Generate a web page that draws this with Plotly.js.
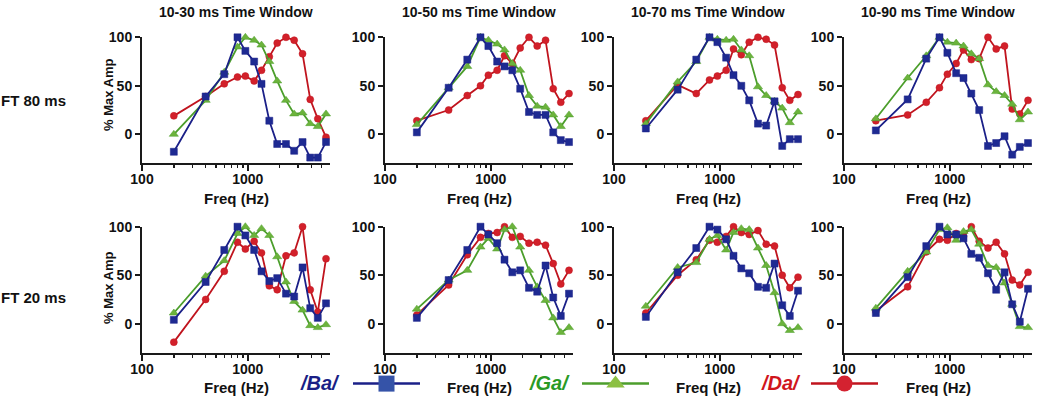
<!DOCTYPE html>
<html>
<head>
<meta charset="utf-8">
<script src="https://cdn.plot.ly/plotly-3.0.1.min.js"></script>
<style>
    body { margin: 0; background: #fff; }
    #graph { width: 1050px; height: 412px; }
</style>
</head>
<body>
<div id="graph"></div>
<script>
// stimulus frequencies (Hz), same for every panel
let freqs = [200, 400, 600, 800, 950, 1150, 1350, 1600, 1900, 2300, 2750, 3300, 3900, 4600, 5500];

let windowTitles = ['10-30 ms Time Window', '10-50 ms Time Window', '10-70 ms Time Window', '10-90 ms Time Window'];
let rowTitles = ['FT 80 ms', 'FT 20 ms'];
let syllables = ['/Ba/', '/Ga/', '/Da/'];

// % max amplitude, FT 80 ms row
let ba_80_30 = [-18, 39, 62, 100, 86, 75, 52, 14, -10, -10, -17, -8, -24, -24, -8];
let ga_80_30 = [0, 35, 64, 90, 100, 97, 92, 75, 55, 35, 21, 22, 11, 8, 21];
let da_80_30 = [19, 39, 52, 59, 60, 55, 66, 80, 94, 100, 97, 83, 36, 16, -3];

let ba_80_50 = [2, 48, 77, 100, 91, 75, 70, 66, 47, 23, 20, 20, 2, -6, -8];
let ga_80_50 = [10, 48, 70, 100, 97, 93, 87, 73, 66, 40, 29, 28, 20, 8, 20];
let da_80_50 = [14, 25, 40, 50, 61, 66, 81, 73, 89, 100, 91, 97, 47, 33, 42];

let ba_80_70 = [6, 46, 77, 100, 95, 79, 61, 50, 35, 11, 9, 34, -12, -5, -5];
let ga_80_70 = [11, 54, 75, 100, 98, 97, 98, 87, 81, 49, 40, 34, 27, 12, 23];
let da_80_70 = [14, 51, 42, 56, 60, 66, 88, 82, 95, 100, 98, 92, 48, 35, 41];

let ba_80_90 = [4, 36, 78, 100, 84, 63, 58, 42, 25, -12, -9, -2, -21, -13, -9];
let ga_80_90 = [16, 58, 81, 100, 95, 94, 91, 83, 78, 51, 44, 40, 31, 15, 23];
let da_80_90 = [14, 20, 33, 48, 62, 73, 87, 77, 78, 100, 88, 91, 26, 21, 35];

// % max amplitude, FT 20 ms row
let ba_20_30 = [4, 43, 76, 100, 91, 76, 54, 44, 47, 31, 28, 58, 16, 6, 21];
let ga_20_30 = [11, 49, 65, 93, 100, 91, 98, 91, 69, 43, 23, 14, -2, -4, -1];
let da_20_30 = [-19, 25, 54, 84, 77, 85, 73, 39, 35, 70, 73, 100, 35, 12, 67];

let ba_20_50 = [6, 45, 76, 100, 92, 83, 66, 53, 55, 37, 33, 60, 27, 8, 31];
let ga_20_50 = [15, 45, 55, 79, 88, 77, 97, 100, 79, 55, 38, 24, 6, -9, -4];
let da_20_50 = [9, 40, 71, 89, 93, 94, 100, 89, 90, 83, 84, 81, 62, 41, 55];

let ba_20_70 = [7, 53, 78, 100, 97, 87, 70, 57, 52, 38, 37, 62, 19, 8, 34];
let ga_20_70 = [18, 58, 63, 87, 91, 76, 94, 98, 97, 78, 60, 32, 0, -7, -4];
let da_20_70 = [11, 50, 66, 86, 84, 90, 100, 94, 92, 96, 82, 80, 50, 37, 48];

let ba_20_90 = [11, 48, 80, 100, 92, 92, 88, 72, 68, 52, 35, 53, 20, 2, 36];
let ga_20_90 = [16, 54, 74, 97, 99, 86, 95, 97, 82, 60, 58, 42, 20, -3, -4];
let da_20_90 = [13, 38, 74, 87, 86, 93, 90, 100, 85, 78, 84, 72, 45, 40, 53];

let panels = [
    [ba_80_30, ga_80_30, da_80_30], [ba_80_50, ga_80_50, da_80_50],
    [ba_80_70, ga_80_70, da_80_70], [ba_80_90, ga_80_90, da_80_90],
    [ba_20_30, ga_20_30, da_20_30], [ba_20_50, ga_20_50, da_20_50],
    [ba_20_70, ga_20_70, da_20_70], [ba_20_90, ga_20_90, da_20_90]
];

let FONT = '"Liberation Sans", Arial, sans-serif';
let W = 1050, H = 412;

let lineColors = ['#1b2088', '#4c9e2c', '#c0141e'];
let markerColors = ['#1e2a92', '#6cb33c', '#d2202a'];
let legendMarkerColors = ['#3553a8', '#8cc043', '#d42230'];
let labelColors = ['#1a1f86', '#2a9a25', '#d0161d'];
let symbols = ['square', 'triangle-up', 'circle'];

// pixel boxes of the plot areas
let colLeft = [142, 385, 614, 844];
let colWidth = 188;
let rowTop = [37.3, 226.7];
let rowBottom = [163.4, 352.8];

let minorTicks = [200, 300, 400, 500, 600, 700, 800, 900, 2000, 3000, 4000, 5000];

let data = [];
let layout = {
    width: W,
    height: H,
    margin: {l: 0, r: 0, t: 0, b: 0},
    paper_bgcolor: '#fff',
    plot_bgcolor: 'rgba(0,0,0,0)',
    font: {family: FONT, color: '#111'},
    hovermode: false,
    showlegend: true,
    annotations: []
};

for (let r = 0; r < 2; r++) {
    for (let c = 0; c < 4; c++) {
        let k = r * 4 + c + 1;
        let sfx = k == 1 ? '' : String(k);

        layout['xaxis' + sfx] = {
            type: 'log',
            domain: [colLeft[c] / W, (colLeft[c] + colWidth) / W],
            range: [2, Math.log10(6000)],
            anchor: 'y' + sfx,
            tickmode: 'array',
            tickvals: [100, 1000],
            ticktext: ['100', '1000'],
            ticks: 'outside',
            ticklen: 6,
            tickwidth: 2,
            tickcolor: '#1a1a1a',
            ticklabelstandoff: -4,
            minor: {tickmode: 'array', tickvals: minorTicks, ticks: 'outside', ticklen: 3, tickwidth: 1.5, tickcolor: '#1a1a1a'},
            showline: true,
            linewidth: 2,
            linecolor: '#1a1a1a',
            showgrid: false,
            zeroline: false,
            automargin: false,
            fixedrange: true,
            tickfont: {family: FONT, size: 14, weight: 'bold', color: '#111'}
        };

        layout['yaxis' + sfx] = {
            domain: [1 - rowBottom[r] / H, 1 - rowTop[r] / H],
            range: [-30, 100],
            anchor: 'x' + sfx,
            tickmode: 'array',
            tickvals: [0, 50, 100],
            ticks: 'outside',
            ticklen: 5,
            tickwidth: 2,
            tickcolor: '#1a1a1a',
            showline: true,
            linewidth: 2,
            linecolor: '#1a1a1a',
            showgrid: false,
            zeroline: false,
            automargin: false,
            fixedrange: true,
            tickfont: {family: FONT, size: 14, weight: 'bold', color: '#111'}
        };

        // draw Da first, Ba last so the blue squares sit on top
        for (let s of [2, 1, 0]) {
            data.push({
                x: freqs,
                y: panels[k - 1][s],
                xaxis: 'x' + sfx,
                yaxis: 'y' + sfx,
                type: 'scatter',
                mode: 'lines+markers',
                showlegend: false,
                cliponaxis: false,
                line: {color: lineColors[s], width: 1.8},
                marker: {symbol: symbols[s], size: s == 1 ? 8 : 7, color: markerColors[s],
                         line: {color: lineColors[s], width: 0.5}}
            });
        }

        // Freq (Hz) under each panel
        layout.annotations.push({
            text: 'Freq (Hz)',
            xref: 'x' + sfx + ' domain', yref: 'y' + sfx + ' domain',
            x: 0.5, y: 0, yshift: -35,
            xanchor: 'center', yanchor: 'middle',
            showarrow: false,
            font: {family: FONT, size: 15, weight: 'bold', color: '#111'}
        });

        if (r == 0) {
            layout.annotations.push({
                text: windowTitles[c],
                xref: 'x' + sfx + ' domain', yref: 'y' + sfx + ' domain',
                x: 0.5, y: 1, yshift: 25,
                xanchor: 'center', yanchor: 'middle',
                showarrow: false,
                font: {family: FONT, size: 14, weight: 'bold', color: '#111'}
            });
        }
    }
}

// row labels and y titles on the left column
let rowLabelY = [100, 297];
let yTitleY = [95, 288];
for (let r = 0; r < 2; r++) {
    layout.annotations.push({
        text: rowTitles[r],
        xref: 'paper', yref: 'paper',
        x: 33 / W, y: 1 - rowLabelY[r] / H,
        xanchor: 'center', yanchor: 'middle',
        showarrow: false,
        font: {family: FONT, size: 15, weight: 'bold', color: '#111'}
    });
    layout.annotations.push({
        text: '% Max Amp',
        xref: 'paper', yref: 'paper',
        x: 108 / W, y: 1 - yTitleY[r] / H,
        xanchor: 'center', yanchor: 'middle',
        textangle: -90,
        showarrow: false,
        font: {family: FONT, size: 13, weight: 'bold', color: '#111'}
    });
}

// legend: one small legend per syllable, coloured label to its left
let legendNames = ['legend', 'legend2', 'legend3'];
let legendLineX = [348, 577, 806];
let legendLabelX = [342, 572, 803];
for (let s = 0; s < 3; s++) {
    data.push({
        x: [null],
        y: [null],
        type: 'scatter',
        mode: 'lines+markers',
        name: ' ',
        legend: legendNames[s],
        showlegend: true,
        line: {color: lineColors[s], width: 2.5},
        marker: {symbol: symbols[s], size: 16, color: legendMarkerColors[s]}
    });
    layout[legendNames[s]] = {
        x: legendLineX[s] / W,
        y: 1 - 384 / H,
        xanchor: 'left',
        yanchor: 'middle',
        itemwidth: 67,
        itemsizing: 'trace',
        bgcolor: 'rgba(0,0,0,0)',
        borderwidth: 0,
        font: {size: 14}
    };
    layout.annotations.push({
        text: '<i>' + syllables[s] + '</i>',
        xref: 'paper', yref: 'paper',
        x: legendLabelX[s] / W, y: 1 - 383 / H,
        xanchor: 'right', yanchor: 'middle',
        showarrow: false,
        font: {family: FONT, size: 20, weight: 'bold', color: labelColors[s]}
    });
}

Plotly.newPlot('graph', data, layout, {displayModeBar: false, staticPlot: true});
</script>
</body>
</html>
